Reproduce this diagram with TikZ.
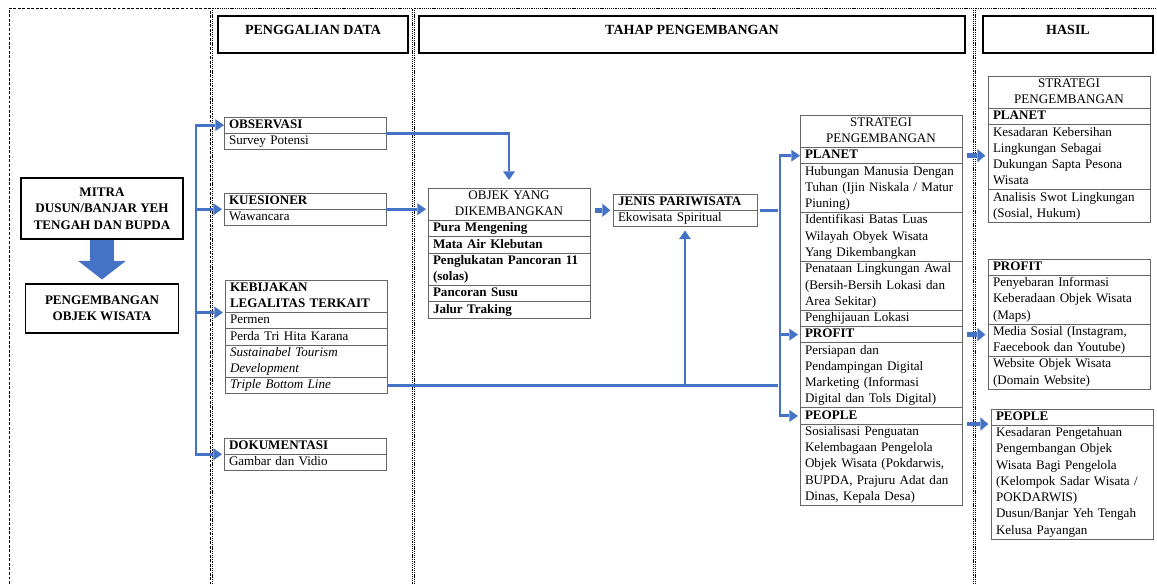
\documentclass[tikz,border=0pt]{standalone}
\usepackage{fontspec}
\setmainfont{Liberation Serif}
\usetikzlibrary{positioning,arrows.meta}
\definecolor{flowblue}{RGB}{68,114,196}

\begin{document}
\begin{tikzpicture}[x=0.75pt,y=-0.75pt,
  every node/.style={font=\fontsize{9.8}{12.2}\selectfont},
  >={Triangle[length=6.5pt,width=9pt,line width=0pt]},
  cell/.style={draw=black!60,line width=0.6pt,outer sep=0pt,inner xsep=3.75pt,inner ysep=0pt,
    text width=114pt,align=left,execute at begin node=\strut,execute at end node=\strut},
  headcell/.style={cell,align=center},
  title/.style={draw,line width=0.8pt,font=\fontsize{10.5}{12.6}\selectfont\bfseries,
    minimum height=27.75pt,text height=8pt,text depth=8pt},
  mitrabox/.style={draw,line width=0.8pt,align=center,font=\fontsize{9.8}{12.2}\selectfont\bfseries},
  flow/.style={draw=flowblue,line width=2.2pt,->,shorten >=1.5pt},
  fat/.style={draw=flowblue,line width=3.6pt,-{Triangle[length=6pt,width=10pt,line width=0pt]},
    shorten <=3.5pt,shorten >=2pt},
  colframe/.style={line width=0.6pt,dash pattern=on 2.2pt off 1.2pt},
  colframe2/.style={line width=0.6pt,dash pattern=on 0.8pt off 0.6pt}]
\useasboundingbox (0,0) rectangle (1157,584);
\draw[colframe] (9,584) -- (9,8) -- (210,8) -- (210,584);
\draw[colframe2] (212,584) -- (212,8) -- (412,8) -- (412,584);
\draw[colframe2] (414,584) -- (414,8) -- (973,8) -- (973,584);
\draw[colframe2] (975,584) -- (975,8) -- (1157,8);

\node[title,minimum width=142.5pt] (pengg) at (313,34.5) {PENGGALIAN DATA};
\node[title,minimum width=409.5pt] (tahap) at (692,34.5) {TAHAP PENGEMBANGAN};
\node[title,minimum width=127.5pt] (hasil) at (1068,34.5) {HASIL};

\node[mitrabox,minimum width=121.5pt,minimum height=45.75pt] (mitra) at (102,208.5) {MITRA\\DUSUN/BANJAR YEH\\TENGAH DAN BUPDA};
\node[mitrabox,minimum width=114.75pt,minimum height=36.75pt] (peng) at (102,308.5) {PENGEMBANGAN\\OBJEK WISATA};
\draw[draw=flowblue,line width=18pt,-{Triangle[length=14pt,width=36pt,line width=0pt]},shorten >=3pt] (mitra.south) -- (mitra.south |- peng.north);

\node[cell,anchor=north west] (obs) at (224,117) {\textbf{OBSERVASI}};
\node[cell,below=0pt of obs] (obs1) {Survey Potensi};
\node[cell,anchor=north west] (kues) at (224,193) {\textbf{KUESIONER}};
\node[cell,below=0pt of kues] (kues1) {Wawancara};
\node[cell,anchor=north west] (kebij) at (225,280) {\bfseries KEBIJAKAN\\LEGALITAS TERKAIT};
\node[cell,below=0pt of kebij] (kebij1) {Permen};
\node[cell,below=0pt of kebij1] (kebij2) {Perda Tri Hita Karana};
\node[cell,below=0pt of kebij2] (kebij3) {\itshape Sustainabel Tourism\\Development};
\node[cell,below=0pt of kebij3] (kebij4) {\textit{Triple Bottom Line}};
\node[cell,anchor=north west] (dok) at (224,438) {\textbf{DOKUMENTASI}};
\node[cell,below=0pt of dok] (dok1) {Gambar dan Vidio};

\node[headcell,anchor=north west] (objek) at (428,188) {OBJEK YANG\\DIKEMBANGKAN};
\node[cell,below=0pt of objek] (objek1) {\textbf{Pura Mengening}};
\node[cell,below=0pt of objek1] (objek2) {\textbf{Mata Air Klebutan}};
\node[cell,below=0pt of objek2] (objek3) {\bfseries Penglukatan Pancoran 11\\(solas)};
\node[cell,below=0pt of objek3] (objek4) {\textbf{Pancoran Susu}};
\node[cell,below=0pt of objek4] (objek5) {\textbf{Jalur Traking}};

\node[cell,text width=100.5pt,anchor=north west] (jenis) at (613,194) {\textbf{JENIS PARIWISATA}};
\node[cell,text width=100.5pt,below=0pt of jenis] (jenis1) {Ekowisata Spiritual};

\node[headcell,anchor=north west] (strat) at (800,115) {STRATEGI\\PENGEMBANGAN};
\node[cell,below=0pt of strat] (splanet) {\textbf{PLANET}};
\node[cell,below=0pt of splanet] (splanet1) {Hubungan Manusia Dengan\\Tuhan (Ijin Niskala / Matur\\Piuning)};
\node[cell,below=0pt of splanet1] (splanet2) {Identifikasi Batas Luas\\Wilayah Obyek Wisata\\Yang Dikembangkan};
\node[cell,below=0pt of splanet2] (splanet3) {Penataan Lingkungan Awal\\(Bersih-Bersih Lokasi dan\\Area Sekitar)};
\node[cell,below=0pt of splanet3] (splanet4) {Penghijauan Lokasi};
\node[cell,below=0pt of splanet4] (sprofit) {\textbf{PROFIT}};
\node[cell,below=0pt of sprofit] (sprofit1) {Persiapan dan\\Pendampingan Digital\\Marketing (Informasi\\Digital dan Tols Digital)};
\node[cell,below=0pt of sprofit1] (speople) {\textbf{PEOPLE}};
\node[cell,below=0pt of speople] (speople1) {Sosialisasi Penguatan\\Kelembagaan Pengelola\\Objek Wisata (Pokdarwis,\\BUPDA, Prajuru Adat dan\\Dinas, Kepala Desa)};

\node[headcell,anchor=north west] (hplanet) at (988,76) {STRATEGI\\PENGEMBANGAN};
\node[cell,below=0pt of hplanet] (hplanet1) {\textbf{PLANET}};
\node[cell,below=0pt of hplanet1] (hplanet2) {Kesadaran Kebersihan\\Lingkungan Sebagai\\Dukungan Sapta Pesona\\Wisata};
\node[cell,below=0pt of hplanet2] (hplanet3) {Analisis Swot Lingkungan\\(Sosial, Hukum)};
\node[cell,anchor=north west] (hprofit) at (988,259) {\textbf{PROFIT}};
\node[cell,below=0pt of hprofit] (hprofit1) {Penyebaran Informasi\\Keberadaan Objek Wisata\\(Maps)};
\node[cell,below=0pt of hprofit1] (hprofit2) {Media Sosial (Instagram,\\Faecebook dan Youtube)};
\node[cell,below=0pt of hprofit2] (hprofit3) {Website Objek Wisata\\(Domain Website)};
\node[cell,anchor=north west] (hpeople) at (991,409) {\textbf{PEOPLE}};
\node[cell,below=0pt of hpeople] (hpeople1) {Kesadaran Pengetahuan\\Pengembangan Objek\\Wisata Bagi Pengelola\\(Kelompok Sadar Wisata /\\POKDARWIS)\\Dusun/Banjar Yeh Tengah\\Kelusa Payangan};

\coordinate (spine) at (196,0);
\coordinate (spine2) at (780,0);
\draw[flow,<->] (obs.west) -| (spine |- dok.south west) -- (dok.south west);
\draw[flow] (spine |- kues.south west) -- (kues.south west);
\draw[flow] (spine |- kebij.south west) -- (kebij.south west);
\draw[flow,shorten >=6pt] (obs.south east) -| (objek.north);
\draw[flow] (kues.south east) -- (kues.south east -| objek.west);
\draw[fat] (jenis.south west -| objek.east) -- (jenis.south west);
\draw[flow,-,shorten <=2pt] (jenis.south east) -- (jenis.south east -| spine2);
\draw[flow,<->] (splanet.west) -| (spine2 |- speople.west) -- (speople.west);
\draw[flow] (spine2 |- sprofit.west) -- (sprofit.west);
\draw[flow,-] (kebij4.east) -- (kebij4.east -| spine2);
\draw[flow,shorten >=3pt] (kebij4.east -| jenis1.south) -- (jenis1.south);
\draw[fat] (splanet.east) -- (splanet.east -| hplanet2.west);
\draw[fat] (sprofit.east) -- (sprofit.east -| hprofit2.west);
\draw[fat] (speople.south east) -- (speople.south east -| hpeople1.west);
\end{tikzpicture}
\end{document}
